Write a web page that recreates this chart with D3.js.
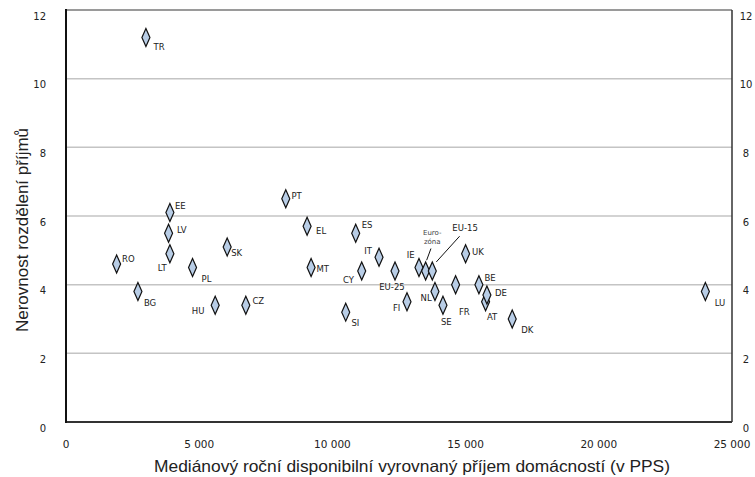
<!DOCTYPE html>
<html>
<head>
<meta charset="utf-8">
<script src="https://cdn.jsdelivr.net/npm/d3@7"></script>
<style>
  html, body { margin: 0; padding: 0; background: #fff; }
  svg { display: block; }
</style>
</head>
<body>
<svg id="chart" width="755" height="477"></svg>
<script>
// ---- data ----
const codes   = ["TR","RO","BG","EE","LV","LT","PL","HU","SK","CZ","PT","EL","MT","SI","ES","CY","IT","EU-25","FI","IE","Eurozóna","EU-15","NL","SE","FR","UK","BE","AT","DE","DK","LU"];
const income  = [3000,1900,2700,3900,3850,3900,4750,5600,6050,6750,8250,9050,9200,10500,10875,11100,11750,12350,12800,13250,13500,13750,13850,14150,14625,15000,15500,15750,15800,16750,24000];
const ratio   = [11.2,4.6,3.8,6.1,5.5,4.9,4.5,3.4,5.1,3.4,6.5,5.7,4.5,3.2,5.5,4.4,4.8,4.4,3.5,4.5,4.4,4.4,3.8,3.4,4.0,4.9,4.0,3.5,3.7,3.0,3.8];
const xTicks  = [0,5000,10000,15000,20000,25000];
const yTicks  = [0,2,4,6,8,10,12];
const xTitle  = "Mediánový roční disponibilní vyrovnaný příjem domácností (v PPS)";
const yTitle  = "Nerovnost rozdělení příjmů";

// label placement relative to the marker (annotation layout)
const labelPlacement = {
  "TR":[7.6,10,"start"], "RO":[5.4,-5,"start"], "BG":[6,11,"start"], "EE":[5,-7,"start"],
  "LV":[8.4,-3,"start"], "LT":[-3.3,14.6,"end"], "PL":[9,12,"start"], "HU":[-10.7,5.7,"end"],
  "SK":[4,6,"start"], "CZ":[6.6,-4,"start"], "PT":[5.7,-3.3,"start"], "EL":[9,4.3,"start"],
  "MT":[5.3,1.3,"start"], "SI":[5.7,11,"start"], "ES":[6,-8.3,"start"], "CY":[-7.7,9,"end"],
  "IT":[-7,-5.7,"end"], "EU-25":[-3,16,"middle"], "FI":[-6.7,5.7,"end"], "IE":[-4.4,-12.7,"end"],
  "NL":[-3.3,6.6,"end"], "SE":[3.4,16.4,"middle"], "FR":[3.3,27,"start"], "UK":[6.4,-1.3,"start"],
  "BE":[5.6,-6.6,"start"], "AT":[1.4,15,"start"], "DE":[8,-2,"start"], "DK":[9,11,"start"],
  "LU":[9.3,11.3,"start"]
};

const points = codes.map((c,i)=>({code:c, x:income[i], y:ratio[i]}));

const svg = d3.select("#chart");
const margin = {left:66, right:23, top:10, bottom:55};
const W = 755, H = 477;
const x = d3.scaleLinear().domain([0,25000]).range([margin.left, W - margin.right]);
const y = d3.scaleLinear().domain([0,12]).range([H - margin.bottom, margin.top]);

const tickFont = "'DejaVu Sans', Verdana, sans-serif";
const fmt = v => d3.format(",")(v).replace(/,/g, "\u2009".replace("\u2009"," "));

// gridlines
svg.append("g").selectAll("line").data(yTicks.filter(v=>v>0 && v<12)).join("line")
  .attr("x1", x(0)).attr("x2", x(25000))
  .attr("y1", d=>y(d)).attr("y2", d=>y(d))
  .attr("stroke", "#c4c4c4").attr("stroke-width", 1.5);

// frame
svg.append("line").attr("x1", x(0)).attr("x2", x(25000)).attr("y1", y(12)).attr("y2", y(12))
  .attr("stroke", "#9a9a9a").attr("stroke-width", 2);
svg.append("line").attr("x1", x(25000)).attr("x2", x(25000)).attr("y1", y(12)).attr("y2", y(0))
  .attr("stroke", "#333").attr("stroke-width", 1.5);
svg.append("line").attr("x1", x(0)).attr("x2", x(25000)).attr("y1", y(0)).attr("y2", y(0))
  .attr("stroke", "#333").attr("stroke-width", 2);
svg.append("line").attr("x1", x(0)).attr("x2", x(0)).attr("y1", y(12)-1).attr("y2", y(0)+1)
  .attr("stroke", "#111").attr("stroke-width", 2);

// left y tick labels
svg.append("g").selectAll("text").data(yTicks).join("text")
  .attr("x", 46).attr("y", d=>y(d)+6).attr("dy","0.35em")
  .attr("text-anchor","end").attr("font-family", tickFont).attr("font-size", 10).attr("fill","#222")
  .text(d=>d);
// right y tick labels
svg.append("g").selectAll("text").data(yTicks).join("text")
  .attr("x", 746).attr("y", d=>y(d)+6).attr("dy","0.35em")
  .attr("text-anchor","middle").attr("font-family", tickFont).attr("font-size", 10).attr("fill","#222")
  .text(d=>d);
// x tick labels
svg.append("g").selectAll("text").data(xTicks).join("text")
  .attr("x", d=>x(d)).attr("y", 444).attr("dy","0.35em")
  .attr("text-anchor","middle").attr("font-family", tickFont).attr("font-size", 10.5).attr("fill","#222")
  .text(d=> d===0 ? "0" : d3.format(",")(d).replace(",", " "));

// axis titles
svg.append("text").attr("x", 412).attr("y", 472)
  .attr("text-anchor","middle").attr("font-family","'Liberation Sans', Arial, sans-serif")
  .attr("font-size", 16.5).attr("fill","#222").attr("textLength", 516).attr("lengthAdjust","spacingAndGlyphs")
  .text(xTitle);
svg.append("text").attr("transform","translate(28,230) rotate(-90)")
  .attr("text-anchor","middle").attr("font-family","'Liberation Sans', Arial, sans-serif")
  .attr("font-size", 17).attr("fill","#222")
  .text(yTitle);

// leader lines for Eurozóna and EU-15
const ez = points.find(p=>p.code==="Eurozóna");
const e15 = points.find(p=>p.code==="EU-15");
svg.append("line")
  .attr("x1", x(ez.x)+5.3).attr("y1", y(ez.y)-22.4).attr("x2", x(ez.x)+1).attr("y2", y(ez.y)-10.7)
  .attr("stroke","#111").attr("stroke-width",1);
svg.append("line")
  .attr("x1", x(e15.x)+27.3).attr("y1", y(e15.y)-34.7).attr("x2", x(e15.x)+4).attr("y2", y(e15.y)-9)
  .attr("stroke","#111").attr("stroke-width",1);

// diamonds
const diamond = "M0,-9 L4,0 L0,9 L-4,0 Z";
svg.append("g").selectAll("path").data(points).join("path")
  .attr("transform", d=>`translate(${x(d.x)},${y(d.y)})`)
  .attr("d", diamond)
  .attr("fill", "#b8cde6").attr("stroke", "#111").attr("stroke-width", 1.2);

// point labels
svg.append("g").selectAll("text").data(points.filter(p=>labelPlacement[p.code])).join("text")
  .attr("x", d=>x(d.x)+labelPlacement[d.code][0])
  .attr("y", d=>y(d.y)+labelPlacement[d.code][1]).attr("dy","0.35em")
  .attr("text-anchor", d=>labelPlacement[d.code][2])
  .attr("font-family", tickFont).attr("font-size", 8.5).attr("fill","#222")
  .text(d=>d.code);

// Eurozóna label (two lines)
const ezLabel = svg.append("text").attr("text-anchor","middle")
  .attr("font-family", tickFont).attr("font-size", 7).attr("fill","#444");
ezLabel.append("tspan").attr("x", x(ez.x)+6.6).attr("y", y(ez.y)-38).attr("dy","0.35em").text("Euro-");
ezLabel.append("tspan").attr("x", x(ez.x)+6.6).attr("y", y(ez.y)-29.7).attr("dy","0.35em").text("zóna");
// EU-15 label
svg.append("text").attr("text-anchor","middle")
  .attr("x", x(e15.x)+32.8).attr("y", y(e15.y)-43).attr("dy","0.35em")
  .attr("font-family", tickFont).attr("font-size", 8.5).attr("fill","#222")
  .text("EU-15");
</script>
</body>
</html>
